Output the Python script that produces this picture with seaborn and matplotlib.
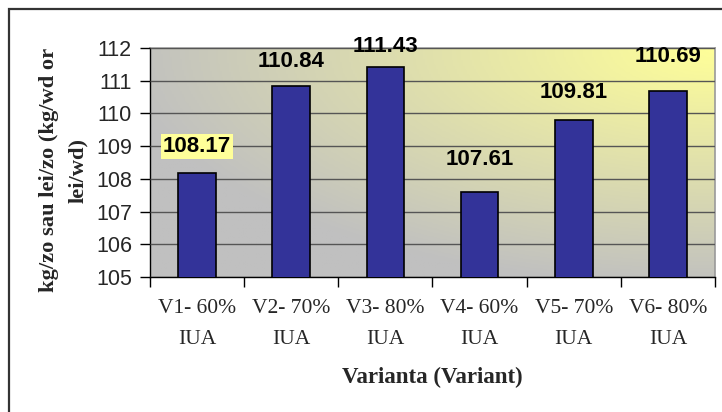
import numpy as np
import pandas as pd
import matplotlib
matplotlib.use("Agg")
import matplotlib.pyplot as plt
from matplotlib.colors import LinearSegmentedColormap
from matplotlib.patches import Rectangle
import seaborn as sns

# ---- data ----
categories = ["V1- 60%\nIUA", "V2- 70%\nIUA", "V3- 80%\nIUA",
              "V4- 60%\nIUA", "V5- 70%\nIUA", "V6- 80%\nIUA"]
values = [108.17, 110.84, 111.43, 107.61, 109.81, 110.69]
value_labels = ["108.17", "110.84", "111.43", "107.61", "109.81", "110.69"]
y_ticks = [105, 106, 107, 108, 109, 110, 111, 112]

# label offsets above bar tops (points) - styling only
label_offsets = [19, 17.5, 14.5, 23, 19.5, 24.5]

df = pd.DataFrame({"cat": categories, "val": values})

sns.set_theme(style="white")
plt.rcParams['font.family'] = ['Liberation Sans', 'DejaVu Sans']

W, H = 722, 412
fig = plt.figure(figsize=(W / 100, H / 100), dpi=100)
fig.patch.set_facecolor("white")

# outer chart border (only top/left visible)
fig.patches.append(Rectangle((8.5 / W, -0.1), 1.2, (H - 8.5) / H + 0.1,
                             transform=fig.transFigure, fill=False,
                             edgecolor="#333333", linewidth=1.6))

ax = fig.add_axes([150 / W, (H - 277) / H, (715 - 150) / W, (277 - 48) / H])

# gradient background: grey -> light yellow toward top-right
cmap = LinearSegmentedColormap.from_list("bg", ["#ffff99", "#c0c0c0"])
gx, gy = np.meshgrid(np.linspace(0, 1, 300), np.linspace(0, 1, 150))
dist = np.sqrt((1 - gx) ** 2 + (1 - gy) ** 2)
t = np.clip(dist / 1.05, 0, 1)
ax.imshow(t, cmap=cmap, vmin=0, vmax=1, extent=[0, 1, 0, 1], origin="lower",
          transform=ax.transAxes, aspect="auto", zorder=0)

sns.barplot(data=df, x="cat", y="val", ax=ax, color="#333399",
            edgecolor="black", linewidth=1.2, width=0.4, saturation=1,
            zorder=3)

ax.set_ylim(105, 112)
ax.set_xlim(-0.5, len(categories) - 0.5)
ax.set_yticks(y_ticks)
ax.set_yticklabels([str(v) for v in y_ticks], fontsize=15.5)
ax.yaxis.grid(True, color="#555555", linewidth=1.0, zorder=1)
ax.set_axisbelow(False)
for gl in ax.get_ygridlines():
    gl.set_zorder(1)

# x ticks: labels at centers, tick marks at boundaries
ax.set_xticks(range(len(categories)))
ax.set_xticklabels(categories, fontsize=15.5, family="Liberation Serif",
                   linespacing=1.85)
ax.set_xticks(np.arange(-0.5, len(categories), 1.0), minor=True)
ax.tick_params(axis="x", which="major", length=0, pad=16)
ax.tick_params(axis="x", which="minor", length=7, width=1, color="black",
               direction="out", bottom=True)
ax.tick_params(axis="y", which="major", length=7, width=1, color="black",
               direction="out", left=True, pad=6)

for side in ["left", "bottom"]:
    ax.spines[side].set_color("black")
    ax.spines[side].set_linewidth(1.0)
for side in ["top", "right"]:
    ax.spines[side].set_color("#999999")
    ax.spines[side].set_linewidth(1.2)

ax.set_xlabel("")
ax.set_ylabel("")

# value labels
for i, (v, lab, off) in enumerate(zip(values, value_labels, label_offsets)):
    kw = {}
    if i == 0:
        kw["bbox"] = dict(facecolor="#ffff99", edgecolor="none", pad=1.5)
    ax.annotate(lab, xy=(i, v), xytext=(0, off), textcoords="offset points",
                ha="center", va="center", fontsize=16, fontweight="bold",
                color="black", zorder=5, annotation_clip=False, **kw)

# axis titles
fig.text(432 / W, 1 - 377 / H, "Varianta (Variant)", ha="center", va="center",
         fontsize=16.5, fontweight="bold", family="Liberation Serif")
fig.text(64 / W, 1 - 170 / H, "kg/zo sau lei/zo (kg/wd or\nlei/wd)",
         ha="center", va="center", rotation=90, fontsize=16.2,
         fontweight="bold", family="Liberation Serif", multialignment="center",
         linespacing=1.6)

fig.savefig("out.png", dpi=100)
